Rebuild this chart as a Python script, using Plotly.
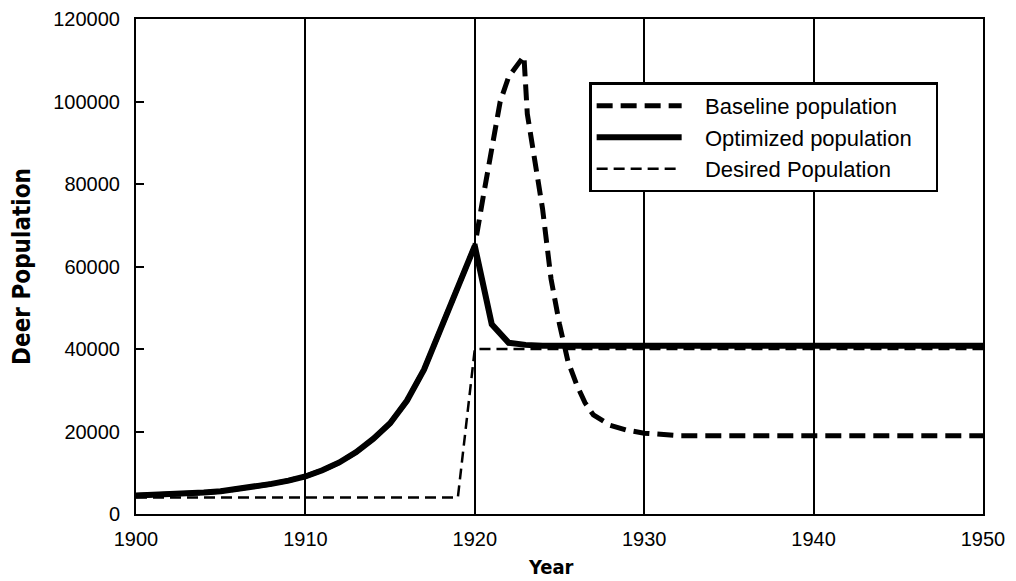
import plotly.graph_objects as go

# ---- data ----
early_years = list(range(1900, 1921))
early_pop = [4500, 4600, 4700, 4900, 5200, 5500, 6000, 6600, 7300, 8100,
             9100, 10600, 12500, 15000, 18200, 22000, 27500, 35000, 45000, 55500, 65000]

base_late_years = [1920.5, 1921, 1921.5, 1922, 1922.5, 1922.9, 1923.1, 1923.5, 1924,
                   1924.5, 1925, 1925.5, 1926, 1926.5, 1927, 1928, 1929, 1930, 1931,
                   1932, 1940, 1950]
base_late_pop = [77000, 89000, 100000, 106000, 109000, 111000, 97000, 87000, 74000,
                 57000, 46000, 37000, 31500, 27000, 24000, 21500, 20300, 19600, 19200,
                 19000, 19000, 19000]

opt_late_years = [1921, 1922, 1923, 1924, 1930, 1940, 1950]
opt_late_pop = [46000, 41500, 41000, 40800, 40800, 40800, 40800]

desired_years = [1900, 1919, 1920, 1950]
desired_pop = [4000, 4000, 40000, 40000]

series_names = ["Baseline population", "Optimized population", "Desired Population"]
x_title = "Year"
y_title = "Deer Population"

baseline_x = early_years + base_late_years
baseline_y = early_pop + base_late_pop
optimized_x = early_years + opt_late_years
optimized_y = early_pop + opt_late_pop

NB = "\u00a0"
def legend_label(name, trail=0):
    return NB * 3 + name + NB * trail

fig = go.Figure()
fig.add_trace(go.Scatter(x=baseline_x, y=baseline_y, mode="lines",
                         name=legend_label(series_names[0]),
                         line=dict(color="black", width=5, dash="16px,8px")))
fig.add_trace(go.Scatter(x=optimized_x, y=optimized_y, mode="lines",
                         name=legend_label(series_names[1], 3),
                         line=dict(color="black", width=6)))
fig.add_trace(go.Scatter(x=desired_years, y=desired_pop, mode="lines",
                         name=legend_label(series_names[2]),
                         line=dict(color="black", width=2.5, dash="11px,6px")))

tick_font = dict(family="Liberation Sans, Arial, sans-serif", size=20, color="black")
ytitle_font = dict(family="DejaVu Sans Condensed, Liberation Sans Narrow, sans-serif",
                   size=24, color="black")
xtitle_font = dict(family="DejaVu Sans Condensed, Liberation Sans Narrow, sans-serif",
                   size=20, color="black")

fig.update_layout(
    width=1000, height=573,
    margin=dict(l=128, r=25, t=11, b=67),
    paper_bgcolor="white", plot_bgcolor="white",
    showlegend=True,
    legend=dict(x=0.535, y=0.872, xanchor="left", yanchor="top",
                bgcolor="white", bordercolor="black", borderwidth=2.5,
                font=dict(family="Liberation Sans, Arial, sans-serif", size=22, color="black"),
                itemwidth=85, tracegroupgap=0),
    xaxis=dict(range=[1900, 1950], tickvals=[1900, 1910, 1920, 1930, 1940, 1950],
               showgrid=True, gridcolor="black", gridwidth=1.5,
               showline=True, linecolor="black", linewidth=2, mirror=True,
               ticks="", tickfont=tick_font, zeroline=False, ticklabelstandoff=6,
               automargin=False),
    yaxis=dict(range=[0, 120000], tickvals=[0, 20000, 40000, 60000, 80000, 100000, 120000],
               tickformat="d",
               showgrid=False, showline=True, linecolor="black", linewidth=2, mirror=True,
               ticks="inside", ticklen=8, tickwidth=2, tickcolor="black",
               tickfont=tick_font, zeroline=False, ticklabelstandoff=10,
               automargin=False,
               title=dict(text="<b>" + y_title + "</b>", font=ytitle_font, standoff=16)),
    annotations=[dict(text="<b>" + x_title + "</b>", font=xtitle_font,
                      xref="paper", yref="paper", x=0.49, y=0,
                      xanchor="center", yanchor="middle", yshift=-53,
                      showarrow=False)],
)

fig.write_html("out.html")
